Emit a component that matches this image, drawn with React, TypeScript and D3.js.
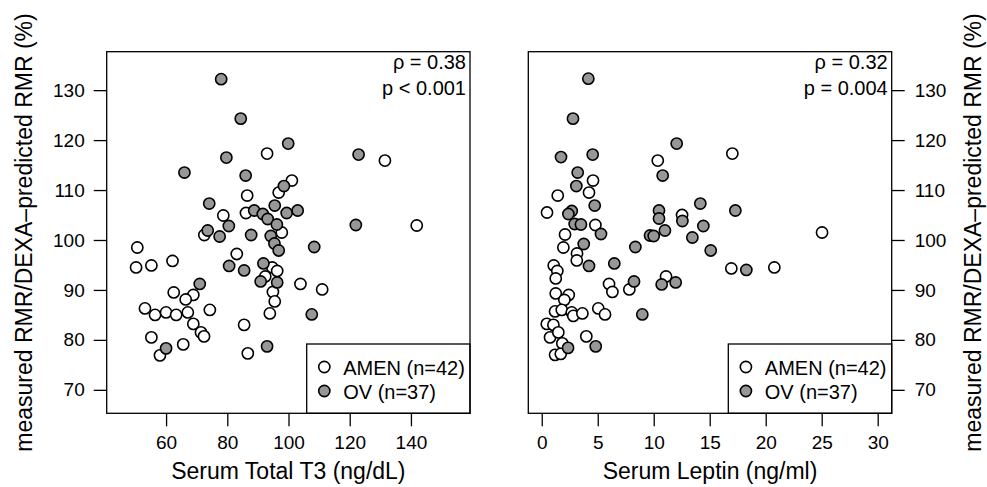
import React, { useRef, useEffect } from 'react';
import * as d3 from 'd3';

// panel 1: serum total T3 (ng/dL) vs measured/predicted RMR (%)
const t3Amen = [
  [93.0, 117.3], [131.5, 115.9], [101.1, 111.9], [96.8, 109.5], [86.5, 108.9], [78.7, 104.9],
  [86.1, 105.4], [141.9, 102.9], [72.5, 101.0], [97.8, 101.5], [50.6, 98.5], [83.1, 97.2],
  [50.2, 94.5], [55.2, 94.9], [62.1, 95.8], [94.7, 94.5], [96.3, 93.8], [94.9, 89.6],
  [95.5, 87.7], [93.9, 85.3], [92.4, 92.7], [103.9, 91.2], [111.0, 90.1], [62.5, 89.5],
  [68.9, 89.0], [66.4, 88.1], [53.1, 86.3], [56.4, 85.0], [60.0, 85.5], [63.3, 85.0],
  [67.1, 85.5], [74.3, 86.0], [68.9, 83.2], [71.4, 81.5], [72.4, 80.7], [55.2, 80.5],
  [65.6, 79.1], [58.0, 76.9], [85.5, 83.0], [86.7, 77.3],
];
const t3Ov = [
  [78.0, 132.2], [84.4, 124.3], [99.9, 119.3], [79.7, 116.5], [122.9, 117.1], [66.0, 113.5],
  [86.0, 112.9], [98.5, 110.8], [74.1, 107.3], [95.5, 106.9], [88.8, 105.9], [91.6, 105.2],
  [93.2, 104.2], [99.4, 105.4], [103.0, 105.9], [96.2, 103.1], [80.5, 102.8], [122.0, 103.0],
  [73.6, 101.9], [77.5, 100.7], [87.8, 101.0], [94.2, 100.8], [95.4, 99.3], [96.8, 97.9],
  [108.4, 98.6], [80.6, 94.8], [85.5, 93.9], [91.8, 95.3], [90.9, 91.7], [96.3, 91.5],
  [71.0, 91.2], [107.6, 85.1], [60.0, 78.3], [93.0, 78.7],
];

// panel 2: serum leptin (ng/ml) vs measured/predicted RMR (%)
const leptinAmen = [
  [17.02, 117.3], [10.36, 115.9], [4.58, 111.9], [4.22, 109.5], [1.43, 108.9], [0.47, 105.5],
  [12.53, 105.0], [4.79, 103.0], [25.03, 101.5], [2.08, 101.1], [1.93, 98.5], [3.15, 97.3],
  [3.13, 95.9], [1.07, 94.9], [1.39, 93.8], [1.25, 92.3], [16.93, 94.3], [20.77, 94.5],
  [6.01, 91.2], [6.31, 89.6], [11.1, 92.7], [7.82, 90.1], [1.25, 89.3], [2.41, 89.0],
  [2.02, 88.0], [1.19, 85.7], [1.79, 86.0], [2.68, 85.5], [2.82, 84.8], [3.63, 85.3],
  [5.05, 86.3], [5.65, 85.1], [0.45, 83.2], [1.04, 83.0], [0.74, 80.5], [1.48, 81.5],
  [1.84, 79.3], [1.19, 77.0], [1.7, 77.2], [3.98, 80.7],
];
const leptinOv = [
  [4.16, 132.3], [2.79, 124.3], [12.05, 119.3], [1.72, 116.6], [4.55, 117.1], [3.21, 113.5],
  [10.8, 112.9], [3.09, 110.8], [4.73, 106.9], [14.16, 107.3], [17.29, 105.9], [10.47, 105.9],
  [2.68, 105.8], [2.38, 105.2], [10.47, 104.3], [12.56, 103.8], [14.43, 102.8], [2.94, 103.2],
  [3.5, 103.1], [11.0, 101.9], [5.29, 101.2], [9.67, 100.9], [10.0, 100.8], [13.45, 100.5],
  [3.75, 99.2], [8.36, 98.6], [15.09, 97.9], [4.22, 94.8], [6.48, 95.3], [18.27, 94.0],
  [8.24, 91.7], [10.71, 91.1], [11.96, 91.5], [8.98, 85.1], [2.35, 78.4], [4.82, 78.7],
];

const yTicks = [70, 80, 90, 100, 110, 120, 130];
const t3Ticks = [60, 80, 100, 120, 140];
const leptinTicks = [0, 5, 10, 15, 20, 25, 30];
const legendLabels = ['AMEN (n=42)', 'OV (n=37)'];
const yTitle = 'measured RMR/DEXA\u2013predicted RMR (%)';

const FONT = '"Liberation Sans", Arial, Helvetica, sans-serif';
const GREY = '#979797';

const App = () => {
  const chartRef = useRef();

  useEffect(() => {
    const svg = d3.select(chartRef.current).html('');
    const top = 51.7;
    const bottom = 413.3;

    const yScale = d3.scaleLinear().domain([65.3, 137.7]).range([bottom, top]);

    const panels = [
      {
        x: d3.scaleLinear().domain([40.6, 159.3]).range([106.7, 470]),
        ticks: t3Ticks, amen: t3Amen, ov: t3Ov,
        title: 'Serum Total T3 (ng/dL)', rho: '\u03c1 = 0.38', p: 'p < 0.001',
        yAxisSide: 'left', legendX: 306.7,
      },
      {
        x: d3.scaleLinear().domain([-1.2, 31.25]).range([528.3, 891.7]),
        ticks: leptinTicks, amen: leptinAmen, ov: leptinOv,
        title: 'Serum Leptin (ng/ml)', rho: '\u03c1 = 0.32', p: 'p = 0.004',
        yAxisSide: 'right', legendX: 728.3,
      },
    ];

    panels.forEach(pn => {
      const [x0, x1] = pn.x.range();
      const g = svg.append('g');

      // points: AMEN first, OV on top
      g.selectAll('.amen')
        .data(pn.amen)
        .enter().append('circle')
        .attr('cx', d => pn.x(d[0]))
        .attr('cy', d => yScale(d[1]))
        .attr('r', 5.6)
        .attr('fill', 'white')
        .attr('stroke', 'black')
        .attr('stroke-width', 1.6);

      g.selectAll('.ov')
        .data(pn.ov)
        .enter().append('circle')
        .attr('cx', d => pn.x(d[0]))
        .attr('cy', d => yScale(d[1]))
        .attr('r', 5.6)
        .attr('fill', GREY)
        .attr('stroke', 'black')
        .attr('stroke-width', 1.6);

      // legend
      const lg = g.append('g');
      lg.append('rect')
        .attr('x', pn.legendX).attr('y', 344)
        .attr('width', x1 - pn.legendX).attr('height', bottom - 344)
        .attr('fill', 'white').attr('stroke', 'black').attr('stroke-width', 1.3);
      legendLabels.forEach((lab, i) => {
        const cy = 367 + i * 24;
        lg.append('circle')
          .attr('cx', pn.legendX + 17.6).attr('cy', cy).attr('r', 5.6)
          .attr('fill', i === 0 ? 'white' : GREY)
          .attr('stroke', 'black').attr('stroke-width', 1.6);
        lg.append('text')
          .attr('x', pn.legendX + 36.5).attr('y', cy + 7.5)
          .attr('font-size', 20).attr('font-family', FONT)
          .text(lab);
      });

      // frame
      g.append('rect')
        .attr('x', x0).attr('y', top)
        .attr('width', x1 - x0).attr('height', bottom - top)
        .attr('fill', 'none').attr('stroke', 'black').attr('stroke-width', 1.3);

      // stats text
      g.append('text')
        .attr('x', x1 - 4).attr('y', 69)
        .attr('text-anchor', 'end').attr('font-size', 20).attr('font-family', FONT)
        .text(pn.rho);
      g.append('text')
        .attr('x', x1 - 4).attr('y', 95)
        .attr('text-anchor', 'end').attr('font-size', 20).attr('font-family', FONT)
        .text(pn.p);

      // x axis
      const xa = g.append('g')
        .attr('transform', `translate(0,${bottom})`)
        .call(d3.axisBottom(pn.x).tickValues(pn.ticks).tickSize(13).tickPadding(9));
      xa.select('.domain').remove();
      xa.selectAll('line').attr('stroke', 'black').attr('stroke-width', 1.3);
      xa.selectAll('text').attr('font-size', 19).attr('font-family', FONT).attr('fill', 'black');

      g.append('text')
        .attr('x', (x0 + x1) / 2).attr('y', 479)
        .attr('text-anchor', 'middle').attr('font-size', 23).attr('font-family', FONT)
        .text(pn.title);

      // y axis
      const left = pn.yAxisSide === 'left';
      const ya = g.append('g')
        .attr('transform', `translate(${left ? x0 : x1},0)`)
        .call((left ? d3.axisLeft(yScale) : d3.axisRight(yScale))
          .tickValues(yTicks).tickSize(13).tickPadding(left ? 9 : 10));
      ya.select('.domain').remove();
      ya.selectAll('line').attr('stroke', 'black').attr('stroke-width', 1.3);
      ya.selectAll('text').attr('font-size', 19).attr('font-family', FONT).attr('fill', 'black');

      g.append('text')
        .attr('transform', `translate(${left ? 32 : 981},${(top + bottom) / 2}) rotate(-90)`)
        .attr('text-anchor', 'middle').attr('font-size', 23).attr('font-family', FONT)
        .text(yTitle);
    });
  }, []);

  return (
    <div style={{ position: 'absolute', left: 0, top: 0, width: 987, height: 487, background: 'white' }}>
      <svg ref={chartRef} width={987} height={487}></svg>
    </div>
  );
};

export default App;
